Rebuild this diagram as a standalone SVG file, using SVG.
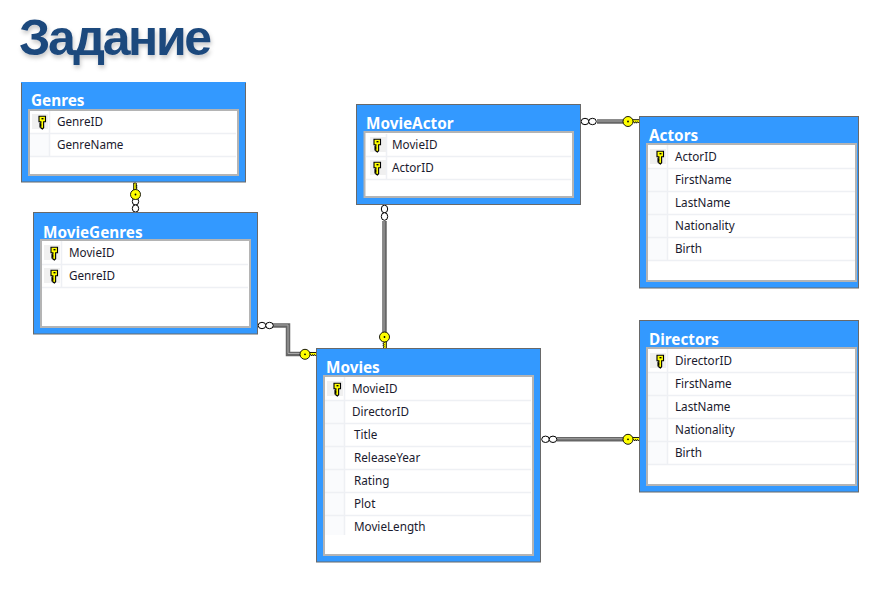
<svg xmlns="http://www.w3.org/2000/svg" width="873" height="615" viewBox="0 0 873 615">
<style>
.frame{fill:#3399ff;stroke:#696969;stroke-width:1}
.inner{fill:#fff;stroke:#b4b4b4;stroke-width:2}
.head{font:bold 15.300px "Noto Sans","Open Sans",sans-serif;fill:#fff}
.row{font:11.700px "Noto Sans","Open Sans",sans-serif;fill:#1a1a2e}
.sep{stroke:#eef0f4;stroke-width:1.500;fill:none}
.cell{fill:#fafbfd}
.kcell{fill:#f0f0f0}
.title{font:bold 50px "Liberation Sans",Arial,sans-serif;fill:#1f497d;letter-spacing:-2.400px}
.lineO{fill:none;stroke:#666;stroke-width:4.500}
.lineI{fill:none;stroke:#aaa;stroke-width:1}
.ring{fill:#fff;stroke:#000;stroke-width:1}
.k{fill:#ffff00;stroke:#000;stroke-width:.9}
</style>
<defs>
<filter id="sh" x="-5%" y="-10%" width="110%" height="130%"><feDropShadow dx="1" dy="3" stdDeviation="2.200" flood-color="#000" flood-opacity=".22"/></filter>
<g id="key"><path class="k" transform="scale(1.250)" d="M-2.800-4.600h5.200v4.400h-1.500v4.800l-1 1-1.200-.9v-.8h-.7v-1.100h.7v-.7h-.7v-1.100h.7v-1.200h-1.500z"/><rect x="-1" y="-4" width="2" height="1.400" fill="#000"/></g>
<g id="hkey"><path class="k" d="M3.500-1.800h8v2l-1 1.200-1-1.200-.9 1.500-1-1.500-1 1.500-1-1.500h-3.100z"/><circle class="k" cx="0" cy="0" r="5"/><circle cx="0" cy="0" r=".9" fill="#000"/></g>
</defs>
<text class="title" x="19" y="55" filter="url(#sh)">Задание</text>

<g id="connectors">
<path class="lineO" d="M597 121.500H624"/><path class="lineI" d="M597 121H624"/>
<ellipse class="ring" cx="585" cy="121.500" rx="3.800" ry="3.200"/><ellipse class="ring" cx="592.500" cy="121.500" rx="3.800" ry="3.200"/>
<use href="#hkey" x="628" y="121.500"/>
<path class="lineO" d="M557 439.300H624"/><path class="lineI" d="M557 438.800H624"/>
<ellipse class="ring" cx="545.500" cy="439.300" rx="3.800" ry="3.200"/><ellipse class="ring" cx="553" cy="439.300" rx="3.800" ry="3.200"/>
<use href="#hkey" x="628" y="439.300"/>
<path class="lineO" d="M384.500 221V333"/><path class="lineI" d="M384 221V333"/>
<ellipse class="ring" cx="384.500" cy="209" rx="3.200" ry="3.800"/><ellipse class="ring" cx="384.500" cy="216.500" rx="3.200" ry="3.800"/>
<use href="#hkey" transform="translate(384.500 337) rotate(90)"/>
<path class="lineO" d="M273 325.500H288V354H301"/><path class="lineI" d="M273 325H288V353.500H301"/>
<ellipse class="ring" cx="262" cy="325.500" rx="3.800" ry="3.200"/><ellipse class="ring" cx="269.500" cy="325.500" rx="3.800" ry="3.200"/>
<use href="#hkey" x="305" y="354.300"/>
<ellipse class="ring" cx="135.500" cy="201.500" rx="3.200" ry="3.600"/><ellipse class="ring" cx="135.500" cy="208.500" rx="3.200" ry="3.600"/>
<use href="#hkey" transform="translate(135.500 194.500) rotate(-90)"/>
</g>

<g id="node-genres">
<rect class="frame" x="21.500" y="82.500" width="224" height="99.500"/>
<path d="M21 82.500H246" stroke="#3399ff" stroke-width="1"/>
<rect class="inner" x="29" y="110" width="209" height="65"/>
<rect class="cell" x="30" y="134" width="19" height="22"/>
<rect class="kcell" x="32" y="114" width="16" height="15"/>
<path class="sep" d="M30 133.500H236M30 156.500H236M49.500 111V156"/>
<text class="head" x="31" y="105.500">Genres</text>
<use href="#key" x="42.500" y="122"/>
<text class="row" x="57" y="126">GenreID</text>
<text class="row" x="57" y="149">GenreName</text>
</g>

<g id="node-moviegenres">
<rect class="frame" x="33.500" y="212.500" width="224" height="121.500"/>
<rect class="inner" x="41" y="240" width="209" height="87"/>
<rect class="kcell" x="44" y="245" width="16" height="15"/>
<rect class="kcell" x="44" y="268" width="16" height="15"/>
<path class="sep" d="M42 264.500H248M42 287.500H248M61.500 241V287"/>
<text class="head" x="43" y="237.500">MovieGenres</text>
<use href="#key" x="54.500" y="253"/>
<use href="#key" x="54.500" y="276"/>
<text class="row" x="69" y="257">MovieID</text>
<text class="row" x="69" y="280">GenreID</text>
</g>

<g id="node-movieactor">
<rect class="frame" x="356.500" y="104.500" width="224" height="100"/>
<rect class="inner" x="364.500" y="132" width="208.500" height="65"/>
<rect class="kcell" x="370" y="137" width="16" height="15"/>
<rect class="kcell" x="370" y="160" width="16" height="15"/>
<path class="sep" d="M366 156.500H571M366 179.500H571M386.500 134V180"/>
<text class="head" x="366" y="129">MovieActor</text>
<use href="#key" x="377.500" y="145"/>
<use href="#key" x="377.500" y="168"/>
<text class="row" x="392" y="149">MovieID</text>
<text class="row" x="392" y="172">ActorID</text>
</g>

<g id="node-actors">
<rect class="frame" x="639.500" y="116.500" width="219" height="171.500"/>
<rect class="inner" x="647" y="144" width="209" height="137"/>
<rect class="cell" x="648" y="169" width="19" height="91"/>
<rect class="kcell" x="650" y="149" width="16" height="15"/>
<path class="sep" d="M648 168.500H855M648 191.500H855M648 214.500H855M648 237.500H855M648 260.500H855M667.500 145V260"/>
<text class="head" x="649" y="141">Actors</text>
<use href="#key" x="660.500" y="157"/>
<text class="row" x="675" y="161">ActorID</text>
<text class="row" x="675" y="184">FirstName</text>
<text class="row" x="675" y="207">LastName</text>
<text class="row" x="675" y="230">Nationality</text>
<text class="row" x="675" y="253">Birth</text>
</g>

<g id="node-directors">
<rect class="frame" x="639.500" y="320.500" width="219" height="171.500"/>
<rect class="inner" x="647" y="348" width="209" height="137"/>
<rect class="cell" x="648" y="373" width="19" height="91"/>
<rect class="kcell" x="650" y="353" width="16" height="15"/>
<path class="sep" d="M648 372.500H855M648 395.500H855M648 418.500H855M648 441.500H855M648 464.500H855M667.500 349V464"/>
<text class="head" x="649" y="345">Directors</text>
<use href="#key" x="660.500" y="361"/>
<text class="row" x="675" y="365">DirectorID</text>
<text class="row" x="675" y="388">FirstName</text>
<text class="row" x="675" y="411">LastName</text>
<text class="row" x="675" y="434">Nationality</text>
<text class="row" x="675" y="457">Birth</text>
</g>

<g id="node-movies">
<rect class="frame" x="316.500" y="348.500" width="224" height="213.500"/>
<rect class="inner" x="324" y="376" width="209" height="179"/>
<rect class="cell" x="325" y="401" width="19" height="134"/>
<rect class="kcell" x="327" y="381" width="16" height="15"/>
<path class="sep" d="M325 400.500H531M325 423.500H531M325 446.500H531M325 469.500H531M325 492.500H531M325 515.500H531M344.500 377V535"/>
<text class="head" x="326" y="373">Movies</text>
<use href="#key" x="337.500" y="389"/>
<text class="row" x="352" y="393">MovieID</text>
<text class="row" x="352" y="416">DirectorID</text>
<text class="row" x="354" y="439">Title</text>
<text class="row" x="354" y="462">ReleaseYear</text>
<text class="row" x="354" y="485">Rating</text>
<text class="row" x="354" y="508">Plot</text>
<text class="row" x="354" y="531">MovieLength</text>
</g>
</svg>
